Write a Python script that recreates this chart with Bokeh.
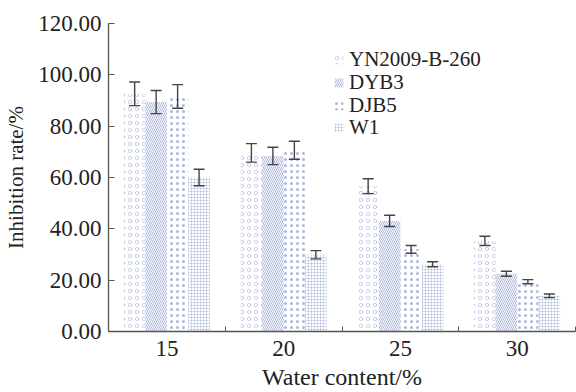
from bokeh.plotting import figure
from bokeh.models import (ColumnDataSource, Whisker, FixedTicker, PrintfTickFormatter,
                          Legend, LegendItem, Range1d, TeeHead)
from bokeh.embed import file_html
from bokeh.resources import INLINE

water = ["15", "20", "25", "30"]
series = ["YN2009-B-260", "DYB3", "DJB5", "W1"]
yn = [92.6, 69.6, 56.6, 35.3]
yn_err = [4.6, 3.6, 2.9, 1.8]
dyb3 = [89.4, 68.4, 43.1, 22.5]
dyb3_err = [4.5, 3.4, 2.2, 1.0]
djb5 = [91.6, 70.6, 32.0, 19.4]
djb5_err = [4.6, 3.5, 1.5, 0.8]
w1 = [60.0, 29.9, 26.2, 13.9]
w1_err = [3.2, 1.6, 1.0, 0.7]
y_ticks = [0, 20, 40, 60, 80, 100, 120]

values = [yn, dyb3, djb5, w1]
errors = [yn_err, dyb3_err, djb5_err, w1_err]

FONT = "Liberation Serif"
HATCH = "#7385c4"
bar_w = 0.184

p = figure(width=576, height=392, output_backend="svg", toolbar_location=None,
           x_range=Range1d(0.5, len(water) + 0.5), y_range=Range1d(0, 120),
           min_border_left=108, min_border_right=1, min_border_top=23, min_border_bottom=59)
p.outline_line_color = None
p.xgrid.visible = False
p.ygrid.visible = False
p.background_fill_color = "white"

styles = [
    dict(hatch_pattern="ring", hatch_scale=7, hatch_weight=0.6, hatch_alpha=0.6),
    dict(hatch_pattern="left_diagonal_line", hatch_scale=4, hatch_weight=0.8, hatch_alpha=0.75),
    dict(hatch_pattern="dot", hatch_scale=6, hatch_weight=0.8, hatch_alpha=0.6),
    dict(hatch_pattern="cross", hatch_scale=3, hatch_weight=0.6, hatch_alpha=0.5),
]

# legend rows: bottom offset (px, from frame bottom) of each one-item legend
legend_y = [259, 236, 213, 191]

for j, name in enumerate(series):
    off = (j - (len(series) - 1) / 2) * bar_w
    xs = [i + 1 + off for i in range(len(water))]
    src = ColumnDataSource(dict(
        x=xs, top=values[j],
        upper=[v + e for v, e in zip(values[j], errors[j])],
        lower=[v - e for v, e in zip(values[j], errors[j])],
    ))
    r = p.vbar(x="x", top="top", bottom=0, width=bar_w, source=src,
               fill_color=None, line_color=None, hatch_color=HATCH, **styles[j])
    w = Whisker(base="x", upper="upper", lower="lower", source=src,
                line_color="#444444", line_width=1.4, level="overlay",
                upper_head=TeeHead(size=11, line_color="#444444", line_width=1.4),
                lower_head=TeeHead(size=11, line_color="#444444", line_width=1.4))
    p.add_layout(w)
    lg = Legend(items=[LegendItem(label=name, renderers=[r])],
                location=(225, legend_y[j]), background_fill_alpha=0,
                border_line_color=None, padding=0, margin=0, spacing=0,
                glyph_width=11, glyph_height=11, label_height=20, label_standoff=5,
                label_text_font=FONT, label_text_font_size="21px",
                label_text_color="#222222")
    p.add_layout(lg)

# axes
ax = p.yaxis[0]
ax.ticker = FixedTicker(ticks=y_ticks)
ax.formatter = PrintfTickFormatter(format="%.2f")
ax.major_tick_in = 6
ax.major_tick_out = 0
ax.minor_tick_line_color = None
ax.major_label_standoff = 7
ax.axis_line_color = "#555555"
ax.major_tick_line_color = "#555555"
ax.axis_line_width = 1.3
ax.major_label_text_font = FONT
ax.major_label_text_font_size = "23px"
ax.major_label_text_color = "#222222"
ax.axis_label = "Inhibition rate/%"
ax.axis_label_text_font = FONT
ax.axis_label_text_font_size = "21px"
ax.axis_label_text_font_style = "normal"
ax.axis_label_text_color = "#222222"
ax.axis_label_standoff = 7

bx = p.xaxis[0]
bx.ticker = FixedTicker(ticks=[i + 1 for i in range(len(water))],
                        minor_ticks=[i + 0.5 for i in range(len(water) + 1)])
bx.major_label_overrides = {i + 1: lab for i, lab in enumerate(water)}
bx.major_tick_in = 0
bx.major_tick_out = 0
bx.minor_tick_in = 5
bx.minor_tick_out = 0
bx.minor_tick_line_color = "#555555"
bx.axis_line_color = "#555555"
bx.axis_line_width = 1.3
bx.major_label_standoff = 9
bx.major_label_text_font = FONT
bx.major_label_text_font_size = "23px"
bx.major_label_text_color = "#222222"
bx.axis_label = "Water content/%"
bx.axis_label_text_font = FONT
bx.axis_label_text_font_size = "24px"
bx.axis_label_text_font_style = "normal"
bx.axis_label_text_color = "#222222"
bx.axis_label_standoff = 5

open("out.html", "w").write(file_html(p, INLINE))
